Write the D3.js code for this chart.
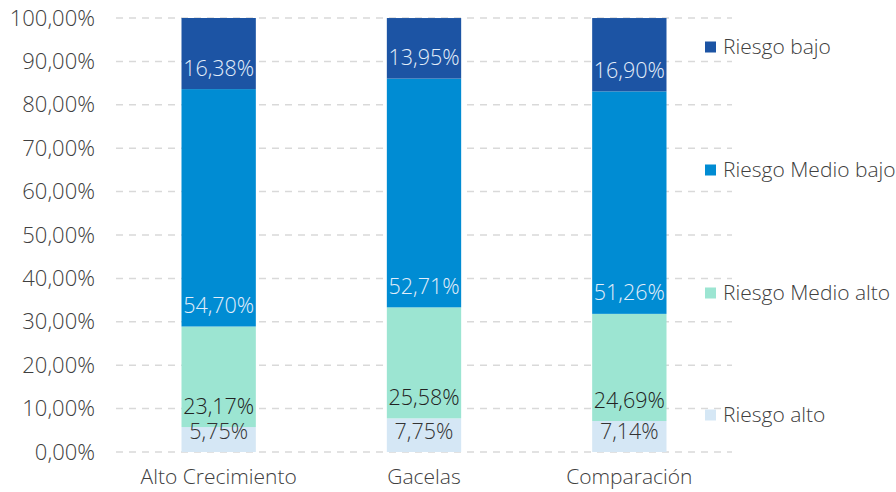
<!DOCTYPE html>
<html>
<head>
<meta charset="utf-8">
<script src="https://cdn.jsdelivr.net/npm/d3@7"></script>
<style>
  body { margin: 0; background: #fff; }
  svg text { font-family: "Open Sans", "Noto Sans", sans-serif; font-weight: 300; }
</style>
</head>
<body>
<div id="chart"></div>
<script>
// data
var categories = ["Alto Crecimiento", "Gacelas", "Comparación"]
var seriesNames = ["Riesgo alto", "Riesgo Medio alto", "Riesgo Medio bajo", "Riesgo bajo"]
var riesgoAlto = [5.75, 7.75, 7.14]
var riesgoMedioAlto = [23.17, 25.58, 24.69]
var riesgoMedioBajo = [54.70, 52.71, 51.26]
var riesgoBajo = [16.38, 13.95, 16.90]
var yTicks = [0, 10, 20, 30, 40, 50, 60, 70, 80, 90, 100]

var colors = ["#d5e7f5", "#9ce5d2", "#008cd3", "#1c54a4"]
var labelColors = ["#333333", "#222222", "#e3eefa", "#e3eefa"]

var width = 896, height = 492
var margin = {left: 116, right: 164, top: 18, bottom: 40}

var rows = categories.map((c, i) => ({
  cat: c,
  "Riesgo alto": riesgoAlto[i],
  "Riesgo Medio alto": riesgoMedioAlto[i],
  "Riesgo Medio bajo": riesgoMedioBajo[i],
  "Riesgo bajo": riesgoBajo[i]
}))

var svg = d3.select("#chart").append("svg")
  .attr("width", width)
  .attr("height", height)

var x = d3.scaleBand()
  .domain(categories)
  .range([margin.left, width - margin.right])
  .paddingInner(0.638)
  .paddingOuter(0.319)

var y = d3.scaleLinear()
  .domain([0, 100])
  .range([height - margin.bottom, margin.top])

var fmt = v => v.toFixed(2).replace(".", ",") + "%"

// gridlines
svg.append("g")
  .selectAll("line")
  .data(yTicks)
  .enter()
  .append("line")
  .attr("x1", margin.left)
  .attr("x2", width - margin.right)
  .attr("y1", d => y(d))
  .attr("y2", d => y(d))
  .attr("stroke", "#d9d9d9")
  .attr("stroke-width", 1.5)
  .attr("stroke-dasharray", "7,6")

// y axis
var yAxis = svg.append("g")
  .attr("transform", "translate(" + margin.left + ",0)")
  .call(d3.axisLeft(y).tickValues(yTicks).tickSize(0).tickPadding(21).tickFormat(fmt))
yAxis.select(".domain").remove()
yAxis.selectAll("text").attr("font-size", 22).attr("fill", "#404040")

// x axis
var xAxis = svg.append("g")
  .attr("transform", "translate(0," + (height - margin.bottom) + ")")
  .call(d3.axisBottom(x).tickSize(0).tickPadding(17))
xAxis.select(".domain").remove()
xAxis.selectAll("text").attr("font-size", 21).attr("fill", "#404040")

var stacked = d3.stack().keys(seriesNames)(rows)

var layer = svg.append("g")
  .selectAll("g")
  .data(stacked)
  .enter()
  .append("g")
  .attr("fill", (d, i) => colors[i])

layer.selectAll("rect")
  .data(d => d)
  .enter()
  .append("rect")
  .attr("x", d => x(d.data.cat))
  .attr("y", d => y(d[1]))
  .attr("width", x.bandwidth())
  .attr("height", d => y(d[0]) - y(d[1]))

// labels sit near the base of each segment
stacked.forEach((s, i) => {
  svg.append("g")
    .selectAll("text")
    .data(s)
    .enter()
    .append("text")
    .attr("x", d => x(d.data.cat) + x.bandwidth() / 2)
    .attr("y", d => y(d[0]) - 21)
    .attr("dy", "0.35em")
    .attr("text-anchor", "middle")
    .attr("font-size", 21.5)
    .attr("fill", labelColors[i])
    .text(d => fmt(d[1] - d[0]))
})

// legend, spread down the right side
var legendY = [415, 293, 170, 47]
var legend = svg.append("g")
  .selectAll("g")
  .data(seriesNames)
  .enter()
  .append("g")
  .attr("transform", (d, i) => "translate(705," + legendY[i] + ")")

legend.append("rect")
  .attr("x", 0)
  .attr("y", -5.5)
  .attr("width", 11)
  .attr("height", 11)
  .attr("fill", (d, i) => colors[i])

legend.append("text")
  .attr("x", 18)
  .attr("dy", "0.35em")
  .attr("font-size", 21)
  .attr("fill", "#404040")
  .text(d => d)
</script>
</body>
</html>
